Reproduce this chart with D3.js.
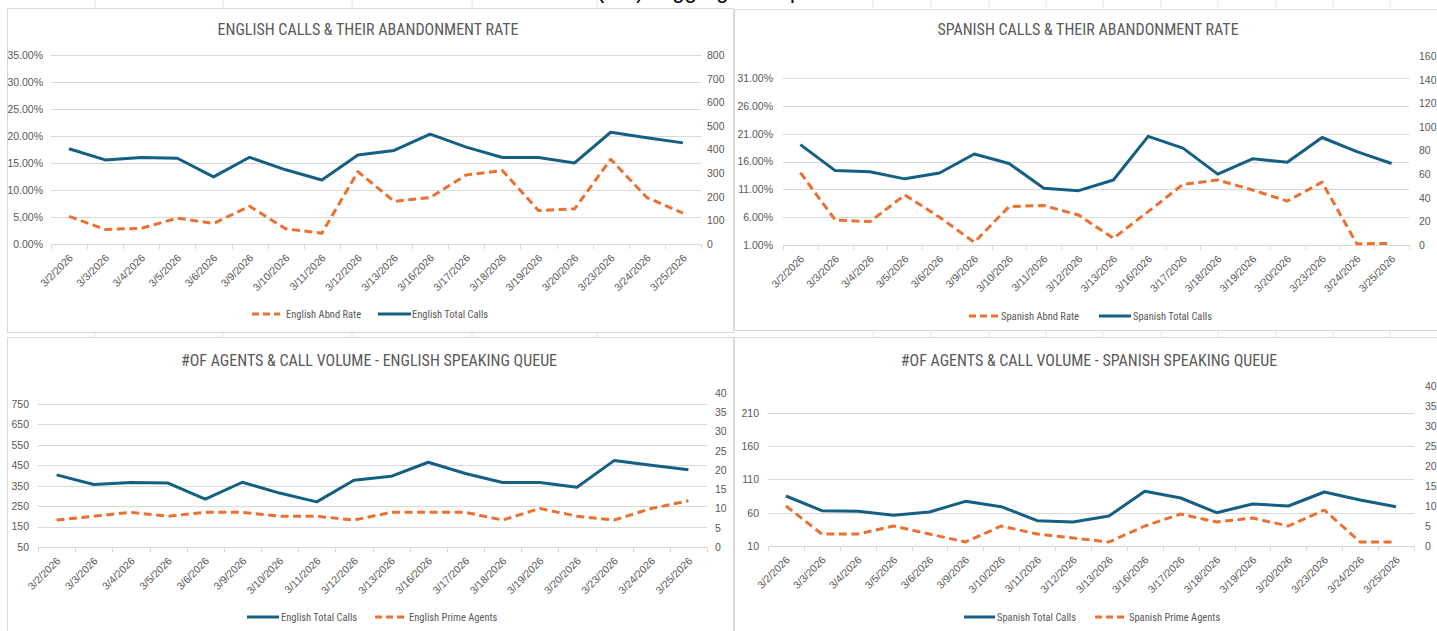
<!DOCTYPE html>
<html>
<head>
<meta charset="utf-8">
<script src="https://cdn.jsdelivr.net/npm/d3@7"></script>
<style>
  body { margin: 0; background: #fff; }
  svg { display: block; font-family: "Liberation Sans Narrow", "Roboto Condensed", "DejaVu Sans Condensed", sans-serif; }
</style>
</head>
<body>
<svg id="chart"></svg>
<script>
// data
const dates = ["3/2/2026", "3/3/2026", "3/4/2026", "3/5/2026", "3/6/2026", "3/9/2026",
  "3/10/2026", "3/11/2026", "3/12/2026", "3/13/2026", "3/16/2026", "3/17/2026",
  "3/18/2026", "3/19/2026", "3/20/2026", "3/23/2026", "3/24/2026", "3/25/2026"];

const engTotalCalls = [403, 356, 366, 363, 284, 367, 314, 271, 377, 396, 465, 410, 366, 366, 343, 473, 450, 428];
const engAbndRate = [0.051, 0.027, 0.029, 0.048, 0.038, 0.070, 0.028, 0.020, 0.134, 0.079, 0.086, 0.128, 0.136, 0.062, 0.065, 0.157, 0.086, 0.057];
const engPrimeAgents = [7, 8, 9, 8, 9, 9, 8, 8, 7, 9, 9, 9, 7, 10, 8, 7, 10, 12];

const spaTotalCalls = [85, 63, 62, 56, 61, 77, 69, 48, 46, 55, 92, 82, 60, 73, 70, 91, 79, 69];
const spaAbndRate = [0.140, 0.055, 0.052, 0.100, 0.060, 0.015, 0.079, 0.081, 0.064, 0.022, 0.070, 0.119, 0.127, 0.109, 0.089, 0.123, 0.012, 0.013];
const spaPrimeAgents = [10, 3, 3, 5, 3, 1, 5, 3, 2, 1, 5, 8, 6, 7, 5, 9, 1, 1];

// tick labels
const engRateTicks = [0, 0.05, 0.10, 0.15, 0.20, 0.25, 0.30, 0.35];
const engCallTicks = [0, 100, 200, 300, 400, 500, 600, 700, 800];
const spaRateTicks = [0.01, 0.06, 0.11, 0.16, 0.21, 0.26, 0.31];
const spaCallTicks = [0, 20, 40, 60, 80, 100, 120, 140, 160];
const engVolTicks = [50, 150, 250, 350, 450, 550, 650, 750];
const spaVolTicks = [10, 60, 110, 160, 210];
const agentTicks = [0, 5, 10, 15, 20, 25, 30, 35, 40];

// colors
const blue = '#156082';
const orange = '#E97132';
const textGray = '#595959';
const gridGray = '#d9d9d9';

const width = 1437;
const height = 631;

const svg = d3.select('#chart')
  .attr('width', width)
  .attr('height', height);

// faint sheet cell lines in the gaps
const cellLines = [95, 223, 352, 472, 597, 873, 931, 989, 1046, 1103, 1161, 1218, 1276, 1333, 1390];
cellLines.forEach(x => {
  svg.append('line').attr('x1', x).attr('x2', x).attr('y1', 0).attr('y2', 8)
    .attr('stroke', '#e6e6e6');
  svg.append('line').attr('x1', x).attr('x2', x).attr('y1', 331).attr('y2', 337)
    .attr('stroke', '#e6e6e6');
});

// heading from the page above, only its descenders show
const heading = svg.append('text').attr('y', -2)
  .style('font-family', '"Liberation Sans", sans-serif').style('font-size', '22px');
heading.append('tspan').attr('x', 597).text('(CC)');
heading.append('tspan').attr('x', 660).text('aggregate');
heading.append('tspan').attr('x', 790).text('performance');

const drawPanel = (p) => {
  const g = svg.append('g');

  // frame
  g.append('rect')
    .attr('x', p.frame[0] + 0.5).attr('y', p.frame[1] + 0.5)
    .attr('width', p.frame[2]).attr('height', p.frame[3])
    .attr('fill', '#fff').attr('stroke', gridGray);

  // title
  g.append('text')
    .attr('x', p.titleX).attr('y', p.titleY)
    .attr('text-anchor', 'middle')
    .attr('fill', textGray)
    .style('font-size', '16px')
    .text(p.title);

  const [x0, x1] = p.xRange;
  const [yTop, yBot] = p.yRange;

  const xScale = d3.scaleBand().domain(dates).range([x0, x1]).padding(0);
  const xPos = (i) => xScale(dates[i]) + xScale.bandwidth() / 2;
  const yLeft = d3.scaleLinear().domain(p.leftDomain).range([yBot, yTop]);
  const yRight = d3.scaleLinear().domain(p.rightDomain).range([yBot, yTop]);

  // gridlines
  g.selectAll('.grid')
    .data(p.leftTicks)
    .enter()
    .append('line')
    .attr('x1', x0).attr('x2', x1)
    .attr('y1', d => Math.round(yLeft(d)) + 0.5)
    .attr('y2', d => Math.round(yLeft(d)) + 0.5)
    .attr('stroke', gridGray);

  // y axes
  const leftAxis = d3.axisLeft(yLeft).tickValues(p.leftTicks).tickSize(0)
    .tickPadding(p.padL).tickFormat(p.leftFormat);
  g.append('g').attr('transform', `translate(${x0}, 0)`).call(leftAxis)
    .call(a => a.select('.domain').remove())
    .selectAll('text').attr('fill', textGray).style('font-size', '10.5px');

  const rightAxis = d3.axisRight(yRight).tickValues(p.rightTicks).tickSize(0)
    .tickPadding(p.padR).tickFormat(d3.format('d'));
  g.append('g').attr('transform', `translate(${x1}, 0)`).call(rightAxis)
    .call(a => a.select('.domain').remove())
    .selectAll('text').attr('fill', textGray).style('font-size', '10.5px');

  // x axis with ticks between categories
  const boundary = d3.scaleLinear().domain([0, dates.length]).range([x0, x1]);
  g.selectAll('.xtick')
    .data(d3.range(dates.length + 1))
    .enter()
    .append('line')
    .attr('x1', d => Math.round(boundary(d)) + 0.5)
    .attr('x2', d => Math.round(boundary(d)) + 0.5)
    .attr('y1', Math.round(yBot)).attr('y2', Math.round(yBot) + 5)
    .attr('stroke', gridGray);

  const xAxis = d3.axisBottom(xScale).tickSize(0).tickSizeOuter(0);
  g.append('g').attr('transform', `translate(0, ${yBot})`).call(xAxis)
    .call(a => a.select('.domain').remove())
    .selectAll('text')
    .attr('x', 0).attr('y', 0).attr('dy', '0.35em')
    .attr('transform', 'translate(2, 12) rotate(-45)')
    .style('text-anchor', 'end')
    .attr('fill', textGray)
    .style('font-size', '10.5px');

  // series
  p.series.forEach(s => {
    const yS = s.axis === 'left' ? yLeft : yRight;
    const line = d3.line().x((d, i) => xPos(i)).y(d => yS(d));
    g.append('path')
      .datum(s.values)
      .attr('fill', 'none')
      .attr('stroke', s.color)
      .attr('stroke-width', 3)
      .attr('stroke-linejoin', 'round')
      .attr('stroke-dasharray', s.dashed ? '8,4.5' : null)
      .attr('d', line);
  });

  // legend
  p.legend.forEach(l => {
    const s = p.series[l.s];
    g.append('line')
      .attr('x1', l.x).attr('x2', l.x + l.w)
      .attr('y1', p.legendY).attr('y2', p.legendY)
      .attr('stroke', s.color).attr('stroke-width', 3)
      .attr('stroke-dasharray', s.dashed ? '7,4' : null);
    g.append('text')
      .attr('x', l.tx).attr('y', p.legendY).attr('dy', '0.35em')
      .attr('fill', textGray)
      .style('font-size', '10.5px')
      .text(s.name);
  });
};

const pct = d3.format('.2%');

drawPanel({
  frame: [7, 8, 726, 324],
  title: 'ENGLISH CALLS & THEIR ABANDONMENT RATE', titleX: 368, titleY: 35,
  xRange: [51, 701], yRange: [55, 244],
  leftDomain: [0, 0.35], leftTicks: engRateTicks, leftFormat: pct, padL: 8,
  rightDomain: [0, 800], rightTicks: engCallTicks, padR: 6,
  series: [
    { name: 'English Abnd Rate', values: engAbndRate, axis: 'left', color: orange, dashed: true },
    { name: 'English Total Calls', values: engTotalCalls, axis: 'right', color: blue, dashed: false }
  ],
  legendY: 314,
  legend: [{ s: 0, x: 252, w: 28, tx: 286 }, { s: 1, x: 378, w: 33, tx: 412 }]
});

drawPanel({
  frame: [734, 9, 710, 321],
  title: 'SPANISH CALLS & THEIR ABANDONMENT RATE', titleX: 1088, titleY: 35,
  xRange: [783, 1409], yRange: [56, 245],
  leftDomain: [0.01, 0.35], leftTicks: spaRateTicks, leftFormat: pct, padL: 10,
  rightDomain: [0, 160], rightTicks: spaCallTicks, padR: 10,
  series: [
    { name: 'Spanish Abnd Rate', values: spaAbndRate, axis: 'left', color: orange, dashed: true },
    { name: 'Spanish Total Calls', values: spaTotalCalls, axis: 'right', color: blue, dashed: false }
  ],
  legendY: 316,
  legend: [{ s: 0, x: 969, w: 29, tx: 1001 }, { s: 1, x: 1099, w: 32, tx: 1133 }]
});

drawPanel({
  frame: [7, 337, 726, 300],
  title: '#OF AGENTS & CALL VOLUME - ENGLISH SPEAKING QUEUE', titleX: 369, titleY: 366,
  xRange: [38, 707], yRange: [393, 547],
  leftDomain: [50, 804], leftTicks: engVolTicks, leftFormat: d3.format('d'), padL: 9,
  rightDomain: [0, 40], rightTicks: agentTicks, padR: 8,
  series: [
    { name: 'English Total Calls', values: engTotalCalls, axis: 'left', color: blue, dashed: false },
    { name: 'English Prime Agents', values: engPrimeAgents, axis: 'right', color: orange, dashed: true }
  ],
  legendY: 617,
  legend: [{ s: 0, x: 247, w: 32, tx: 281 }, { s: 1, x: 375, w: 29, tx: 409 }]
});

drawPanel({
  frame: [734, 337, 710, 300],
  title: '#OF AGENTS & CALL VOLUME - SPANISH SPEAKING QUEUE', titleX: 1089, titleY: 366,
  xRange: [768, 1414], yRange: [386, 546],
  leftDomain: [10, 250], leftTicks: spaVolTicks, leftFormat: d3.format('d'), padL: 9,
  rightDomain: [0, 40], rightTicks: agentTicks, padR: 11,
  series: [
    { name: 'Spanish Total Calls', values: spaTotalCalls, axis: 'left', color: blue, dashed: false },
    { name: 'Spanish Prime Agents', values: spaPrimeAgents, axis: 'right', color: orange, dashed: true }
  ],
  legendY: 617,
  legend: [{ s: 0, x: 964, w: 31, tx: 997 }, { s: 1, x: 1095, w: 29, tx: 1129 }]
});
</script>
</body>
</html>
